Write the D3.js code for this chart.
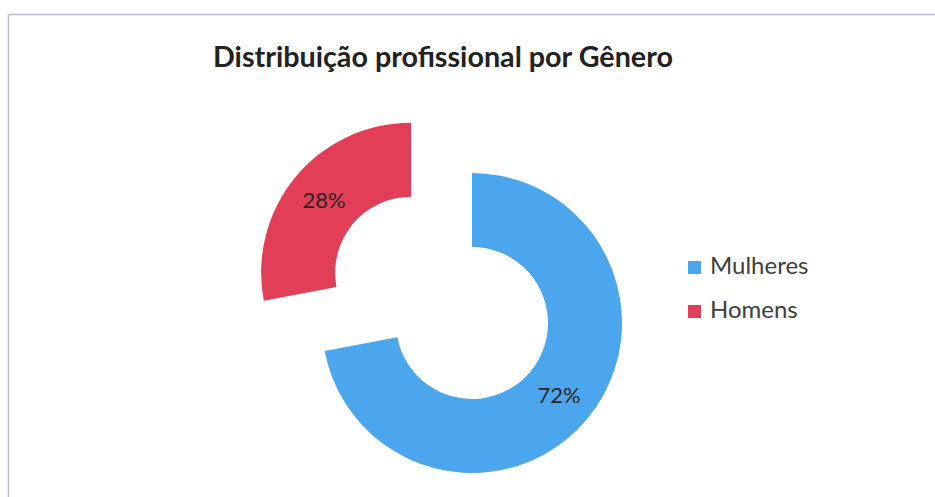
<!DOCTYPE html>
<html>
<head>
<meta charset="utf-8">
<script src="https://cdn.jsdelivr.net/npm/d3@7"></script>
<style>
  body { margin: 0; background: #fff; }
  svg { display: block; }
</style>
</head>
<body>
<svg id="chart" width="935" height="497"></svg>
<script>
"use strict"

// dados do gráfico
const categorias = ["Mulheres", "Homens"]
const valores = [72, 28]
const rotulos = ["72%", "28%"]
const cores = ["#4ba6ee", "#e23e57"]
const explodido = [0, 1] // só a fatia dos homens sai do anel

const titulo = "Distribuição profissional por Gênero"

const svg = d3.select("#chart")

// moldura cinza (só topo e lado esquerdo aparecem)
svg.append("path")
    .attr("d", "M8.5,497 L8.5,14.5 L935,14.5")
    .attr("fill", "none")
    .attr("stroke", "#bdbdcc")
    .attr("stroke-width", 1.5)

svg.append("text")
    .attr("x", 213)
    .attr("y", 67)
    .attr("textLength", 460)
    .attr("lengthAdjust", "spacingAndGlyphs")
    .style("font-family", "Lato, 'Open Sans', sans-serif")
    .style("font-weight", "bold")
    .style("font-size", "28px")
    .attr("fill", "#222")
    .text(titulo)

const cx = 472, cy = 323
const rOut = 150, rIn = 76
const deslocamento = 79

const pie = d3.pie().sort(null).value(d => d)
const arc = d3.arc().innerRadius(rIn).outerRadius(rOut)
const arcos = pie(valores)

const g = svg.append("g").attr("transform", `translate(${cx},${cy})`)

const fatias = g.selectAll("g.fatia")
    .data(arcos)
    .join("g")
    .attr("class", "fatia")
    .attr("transform", (d, i) => {
        let a = (d.startAngle + d.endAngle) / 2
        let off = explodido[i] * deslocamento
        return `translate(${off * Math.sin(a)},${-off * Math.cos(a)})`
    })

fatias.append("path")
    .attr("d", arc)
    .attr("fill", (d, i) => cores[i])

fatias.append("text")
    .attr("transform", d => `translate(${arc.centroid(d)})`)
    .attr("text-anchor", "middle")
    .attr("dy", "0.35em")
    .style("font-family", "Lato, 'Open Sans', sans-serif")
    .style("font-size", "22px")
    .attr("fill", "#262626")
    .text((d, i) => rotulos[i])

// legenda
const leg = svg.append("g")
    .selectAll("g")
    .data(categorias)
    .join("g")
    .attr("transform", (d, i) => `translate(688,${261 + i * 44})`)

leg.append("rect")
    .attr("width", 13)
    .attr("height", 13)
    .attr("fill", (d, i) => cores[i])

leg.append("text")
    .attr("x", 22)
    .attr("y", 13)
    .style("font-family", "Lato, 'Open Sans', sans-serif")
    .style("font-size", "24px")
    .attr("fill", "#404040")
    .text(d => d)
</script>
</body>
</html>
